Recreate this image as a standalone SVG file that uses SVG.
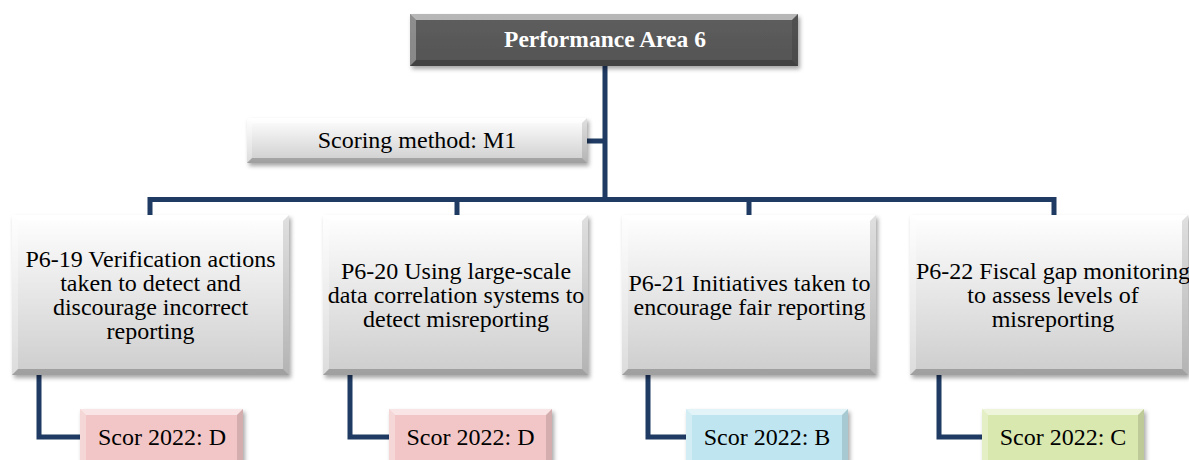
<svg xmlns="http://www.w3.org/2000/svg" width="1189" height="460" viewBox="0 0 1189 460" font-family="'Liberation Serif', 'DejaVu Serif', serif">
  <defs>
    <linearGradient id="gGray" x1="0" y1="0" x2="0" y2="1">
      <stop offset="0" stop-color="#ffffff"/>
      <stop offset="1" stop-color="#cdcdcd"/>
    </linearGradient>
    <linearGradient id="gDark" x1="0" y1="0" x2="0" y2="1">
      <stop offset="0" stop-color="#5e5e5e"/>
      <stop offset="1" stop-color="#545454"/>
    </linearGradient>
    <filter id="shadow" x="-10%" y="-10%" width="125%" height="140%">
      <feDropShadow dx="2" dy="3" stdDeviation="2" flood-color="#000" flood-opacity="0.35"/>
    </filter>
  </defs>
  <style>
    .conn { fill: none; stroke: #1f3a63; stroke-width: 5; stroke-linejoin: miter; }
    .box { filter: url(#shadow); }
    .hi { fill: #ffffff; opacity: 0.55; }
    .hl { fill: #ffffff; opacity: 0.3; }
    .sr { fill: #000000; opacity: 0.12; }
    .sb { fill: #000000; opacity: 0.22; }
    .t { font-family: "Liberation Serif", "DejaVu Serif", serif; font-size: 24px; fill: #000; text-anchor: middle; }
    .title { font-weight: bold; fill: #ffffff; font-size: 23.5px; }
  </style>

  <!-- connectors -->
  <g id="connectors">
    <path class="conn" d="M605,66 V199.5"/>
    <path class="conn" d="M587,141 H605"/>
    <path class="conn" d="M150,215 V199.5 H1054 V215"/>
    <path class="conn" d="M457,199.5 V215"/>
    <path class="conn" d="M749,199.5 V215"/>
    <path class="conn" d="M39,375 V437 H80"/>
    <path class="conn" d="M350,375 V437 H389"/>
    <path class="conn" d="M648,375 V437 H686"/>
    <path class="conn" d="M939,375 V437 H982"/>
  </g>

  <!-- root -->
  <g id="area6">
    <rect class="box" x="410" y="14" width="388" height="52" fill="url(#gDark)"/>
    <polygon class="hi" points="410,14 798,14 792,20 416,20" opacity="0.25"/>
    <polygon class="hl" points="410,14 416,20 416,60 410,66" opacity="0.15"/>
    <polygon class="sr" points="798,14 798,66 792,60 792,20"/>
    <polygon class="sb" points="410,66 798,66 792,60 416,60"/>
    <text class="t title" x="605" y="47">Performance Area 6</text>
  </g>

  <!-- scoring method -->
  <g id="scoring">
    <rect class="box" x="247" y="118" width="340" height="45" fill="url(#gGray)"/>
    <polygon class="hi" points="247,118 587,118 582,123 252,123"/>
    <polygon class="hl" points="247,118 252,123 252,158 247,163"/>
    <polygon class="sr" points="587,118 587,163 582,158 582,123"/>
    <polygon class="sb" points="247,163 587,163 582,158 252,158"/>
    <text class="t" x="417" y="148">Scoring method: M1</text>
  </g>

  <!-- indicators -->
  <g id="p6-19">
    <rect class="box" x="12" y="215" width="277" height="160" fill="url(#gGray)"/>
    <polygon class="hi" points="12,215 289,215 283,221 18,221"/>
    <polygon class="hl" points="12,215 18,221 18,369 12,375"/>
    <polygon class="sr" points="289,215 289,375 283,369 283,221"/>
    <polygon class="sb" points="12,375 289,375 283,369 18,369"/>
    <text class="t" x="150.5" y="267">P6-19 Verification actions</text>
    <text class="t" x="150.5" y="291">taken to detect and</text>
    <text class="t" x="150.5" y="315">discourage incorrect</text>
    <text class="t" x="150.5" y="339">reporting</text>
  </g>

  <g id="p6-20">
    <rect class="box" x="323" y="215" width="265" height="160" fill="url(#gGray)"/>
    <polygon class="hi" points="323,215 588,215 582,221 329,221"/>
    <polygon class="hl" points="323,215 329,221 329,369 323,375"/>
    <polygon class="sr" points="588,215 588,375 582,369 582,221"/>
    <polygon class="sb" points="323,375 588,375 582,369 329,369"/>
    <text class="t" x="456" y="279">P6-20 Using large-scale</text>
    <text class="t" x="456" y="303">data correlation systems to</text>
    <text class="t" x="456" y="327">detect misreporting</text>
  </g>

  <g id="p6-21">
    <rect class="box" x="622" y="215" width="254" height="160" fill="url(#gGray)"/>
    <polygon class="hi" points="622,215 876,215 870,221 628,221"/>
    <polygon class="hl" points="622,215 628,221 628,369 622,375"/>
    <polygon class="sr" points="876,215 876,375 870,369 870,221"/>
    <polygon class="sb" points="622,375 876,375 870,369 628,369"/>
    <text class="t" x="749.5" y="291">P6-21 Initiatives taken to</text>
    <text class="t" x="749.5" y="315">encourage fair reporting</text>
  </g>

  <g id="p6-22">
    <rect class="box" x="910" y="215" width="278" height="160" fill="url(#gGray)"/>
    <polygon class="hi" points="910,215 1188,215 1182,221 916,221"/>
    <polygon class="hl" points="910,215 916,221 916,369 910,375"/>
    <polygon class="sr" points="1188,215 1188,375 1182,369 1182,221"/>
    <polygon class="sb" points="910,375 1188,375 1182,369 916,369"/>
    <text class="t" x="1053" y="279">P6-22 Fiscal gap monitoring</text>
    <text class="t" x="1053" y="303">to assess levels of</text>
    <text class="t" x="1053" y="327">misreporting</text>
  </g>

  <!-- scores -->
  <g id="score-19">
    <rect class="box" x="80" y="409" width="163" height="58" fill="#f2c6c6"/>
    <polygon class="hi" points="80,409 243,409 237,415 86,415"/>
    <polygon class="hl" points="80,409 86,415 86,467 80,467"/>
    <polygon class="sr" points="243,409 243,467 237,467 237,415"/>
    <text class="t" x="162" y="445">Scor 2022: D</text>
  </g>

  <g id="score-20">
    <rect class="box" x="389" y="409" width="163" height="58" fill="#f2c6c6"/>
    <polygon class="hi" points="389,409 552,409 546,415 395,415"/>
    <polygon class="hl" points="389,409 395,415 395,467 389,467"/>
    <polygon class="sr" points="552,409 552,467 546,467 546,415"/>
    <text class="t" x="470.5" y="445">Scor 2022: D</text>
  </g>

  <g id="score-21">
    <rect class="box" x="686" y="409" width="162" height="58" fill="#bfe6f0"/>
    <polygon class="hi" points="686,409 848,409 842,415 692,415"/>
    <polygon class="hl" points="686,409 692,415 692,467 686,467"/>
    <polygon class="sr" points="848,409 848,467 842,467 842,415"/>
    <text class="t" x="767" y="445">Scor 2022: B</text>
  </g>

  <g id="score-22">
    <rect class="box" x="982" y="409" width="162" height="58" fill="#d9e8ae"/>
    <polygon class="hi" points="982,409 1144,409 1138,415 988,415"/>
    <polygon class="hl" points="982,409 988,415 988,467 982,467"/>
    <polygon class="sr" points="1144,409 1144,467 1138,467 1138,415"/>
    <text class="t" x="1063" y="445">Scor 2022: C</text>
  </g>
</svg>
